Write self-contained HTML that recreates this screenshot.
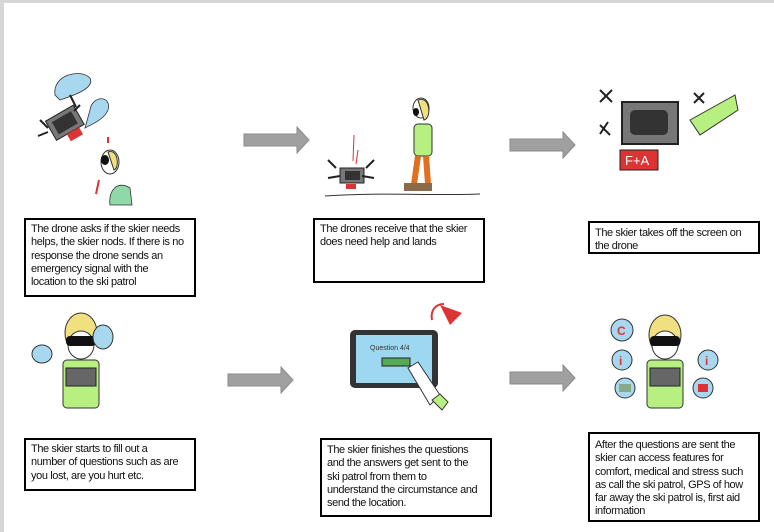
<!DOCTYPE html>
<html><head><meta charset="utf-8"><style>
*{margin:0;padding:0;box-sizing:border-box}
body{width:774px;height:532px;background:#fff;position:relative;overflow:hidden;font-family:"Liberation Sans",sans-serif}
.box{position:absolute;border:2px solid #000;background:#fff;font-size:11px;line-height:13.3px;padding:2px 5px;letter-spacing:-0.4px;color:#111;overflow:hidden;white-space:nowrap}
svg{position:absolute;left:0;top:0}
</style></head><body>
<div style="position:absolute;left:0;top:0;width:774px;height:3px;background:#d6d6d6"></div>
<div style="position:absolute;left:0;top:0;width:4px;height:532px;background:#d6d6d6"></div>
<svg width="774" height="532" viewBox="0 0 774 532">
<g fill="#a0a0a0" stroke="#8a8a8a" stroke-width="1">
<polygon points="244,134 297,134 297,127 309,140 297,153 297,146 244,146"/>
<polygon points="510,139 563,139 563,132 575,145 563,158 563,151 510,151"/>
<polygon points="228,374 281,374 281,367 293,380 281,393 281,386 228,386"/>
<polygon points="510,372 563,372 563,365 575,378 563,391 563,384 510,384"/>
</g>
<path d="M55,95 C52,75 80,68 90,78 C95,88 75,95 60,100Z" fill="#a8d8f0" stroke="#333" stroke-width=".8"/>
<path d="M90,110 C92,95 112,95 108,110 C104,120 90,125 85,128Z" fill="#a8d8f0" stroke="#333" stroke-width=".8"/>
<g transform="rotate(-30 65 125)"><rect x="50" y="112" width="32" height="22" fill="#777" stroke="#222"/><rect x="55" y="116" width="22" height="14" fill="#333"/><rect x="62" y="134" width="14" height="8" fill="#d33"/></g>
<path d="M40,120 l8,8 M38,136 l10,-4 M70,95 l6,12 M80,105 l-6,6" stroke="#222" stroke-width="2"/>
<path d="M110,205 C108,190 118,180 130,188 L132,205Z" fill="#8fd8a8" stroke="#333" stroke-width=".8"/>
<ellipse cx="110" cy="162" rx="9" ry="12" fill="#fff" stroke="#333"/>
<path d="M108,152 C118,148 120,168 114,170 Z" fill="#f0e080" stroke="#333"/>
<ellipse cx="105" cy="160" rx="4" ry="5" fill="#111"/>
<path d="M108,143 l0,-6 M99,180 l-3,14" stroke="#d33" stroke-width="2"/>
<rect x="340" y="168" width="24" height="15" fill="#777" stroke="#222"/><rect x="345" y="171" width="15" height="9" fill="#333"/><rect x="346" y="184" width="10" height="5" fill="#d33"/>
<path d="M328,160 l8,8 M374,160 l-8,8 M328,178 l12,-2 M374,178 l-12,-2" stroke="#222" stroke-width="2"/>
<path d="M354,135 l-1,26 M358,150 l-2,14" stroke="#d33" stroke-width="1"/>
<path d="M325,196 C380,192 430,196 480,194" stroke="#333" fill="none"/>
<ellipse cx="421" cy="108" rx="8" ry="10" fill="#fff" stroke="#333"/>
<path d="M418,100 C430,95 432,118 424,120Z" fill="#f0e080" stroke="#333"/>
<ellipse cx="416" cy="112" rx="3" ry="4" fill="#111"/>
<rect x="414" y="124" width="18" height="32" rx="4" fill="#b7ef80" stroke="#333"/>
<path d="M418,156 l-4,28 M426,156 l2,28" stroke="#e07020" stroke-width="6"/>
<rect x="404" y="183" width="16" height="8" fill="#8b6a4a"/><rect x="418" y="183" width="14" height="8" fill="#8b6a4a"/>
<rect x="622" y="102" width="56" height="42" fill="#777" stroke="#222" stroke-width="2"/><rect x="630" y="110" width="38" height="25" rx="5" fill="#333"/>
<rect x="620" y="150" width="38" height="20" fill="#d33" stroke="#222"/>
<text x="625" y="165" font-size="13" fill="#fff" font-family="Liberation Sans">F+A</text>
<path d="M600,90 l12,12 M612,90 l-12,12 M600,125 l10,10 M608,122 l-8,12 M694,93 l10,10 M704,93 l-10,10" stroke="#222" stroke-width="2"/>
<path d="M690,120 L735,95 L738,110 L700,135Z" fill="#b7ef80" stroke="#333"/>
<ellipse cx="81" cy="333" rx="16" ry="20" fill="#f0e080" stroke="#333"/>
<ellipse cx="81" cy="345" rx="13" ry="14" fill="#fff" stroke="#333"/>
<rect x="66" y="336" width="30" height="10" rx="4" fill="#111"/>
<rect x="63" y="360" width="36" height="48" rx="4" fill="#b7ef80" stroke="#333"/>
<rect x="66" y="368" width="30" height="18" fill="#666" stroke="#222"/>
<ellipse cx="42" cy="354" rx="10" ry="9" fill="#a8d8f0" stroke="#333"/>
<ellipse cx="103" cy="337" rx="10" ry="12" fill="#a8d8f0" stroke="#333"/>
<rect x="350" y="330" width="88" height="58" rx="5" fill="#333"/><rect x="356" y="335" width="76" height="48" fill="#9ed8f0"/>
<text x="370" y="350" font-size="7" fill="#333">Question 4/4</text>
<rect x="382" y="358" width="28" height="8" fill="#5a5" stroke="#222"/>
<path d="M408,368 L430,405 L440,395 L418,362Z" fill="#fff" stroke="#333"/>
<path d="M432,400 l10,10 l6,-8 l-8,-8Z" fill="#b7ef80" stroke="#333"/>
<path d="M440,305 l10,20 l12,-12Z" fill="#d33"/><path d="M432,320 C430,310 436,304 444,304" stroke="#d33" stroke-width="2" fill="none"/>
<ellipse cx="665" cy="335" rx="16" ry="20" fill="#f0e080" stroke="#333"/>
<ellipse cx="665" cy="345" rx="13" ry="14" fill="#fff" stroke="#333"/>
<rect x="650" y="336" width="30" height="10" rx="4" fill="#111"/>
<rect x="647" y="360" width="36" height="48" rx="4" fill="#b7ef80" stroke="#333"/>
<rect x="650" y="368" width="30" height="18" fill="#666" stroke="#222"/>
<g fill="#a8d8f0" stroke="#333"><circle cx="622" cy="330" r="11"/><circle cx="622" cy="360" r="10"/><circle cx="708" cy="360" r="10"/><circle cx="625" cy="388" r="10"/><circle cx="703" cy="388" r="10"/></g>
<g fill="#d33" font-size="12" font-weight="bold"><text x="617" y="335">C</text><text x="619" y="365">i</text><text x="705" y="365">i</text></g>
<rect x="698" y="384" width="10" height="8" fill="#d33"/><rect x="619" y="384" width="12" height="8" fill="#8a8"/>
</svg>
<div class="box" style="left:24px;top:218px;width:172px;height:79px;padding-top:3px">The drone asks if the skier needs<br>helps, the skier nods. If there is no<br>response the drone sends an<br>emergency signal with the<br>location to the ski patrol</div>
<div class="box" style="left:313px;top:218px;width:172px;height:65px;padding-top:3px">The drones receive that the skier<br>does need help and lands</div>
<div class="box" style="left:588px;top:221px;width:172px;height:33px;padding-top:4px">The skier takes off the screen on<br>the drone</div>
<div class="box" style="left:24px;top:438px;width:172px;height:53px;padding-top:3px">The skier starts to fill out a<br>number of questions such as are<br>you lost, are you hurt etc.</div>
<div class="box" style="left:320px;top:438px;width:172px;height:79px;padding-top:4px">The skier finishes the questions<br>and the answers get sent to the<br>ski patrol from them to<br>understand the circumstance and<br>send the location.</div>
<div class="box" style="left:588px;top:432px;width:172px;height:90px;padding-top:5px">After the questions are sent the<br>skier can access features for<br>comfort, medical and stress such<br>as call the ski patrol, GPS of how<br>far away the ski patrol is, first aid<br>information</div>
</body></html>
